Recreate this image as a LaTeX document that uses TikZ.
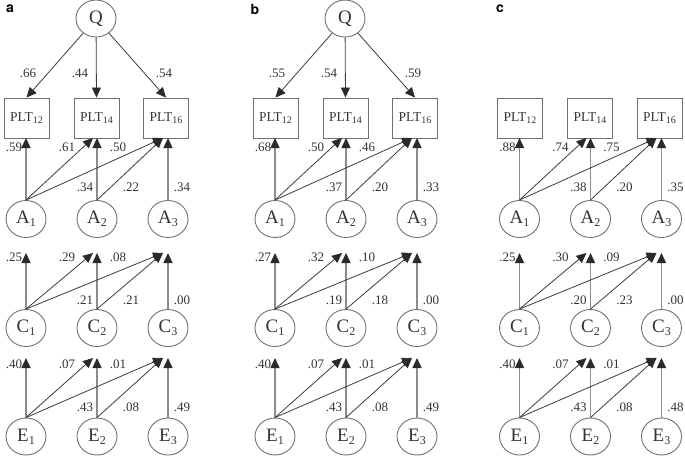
\documentclass[tikz,border=0pt]{standalone}
\usepackage{fontspec}
\setmainfont{Liberation Serif}
\newfontfamily\panelfont{TeX Gyre Heros}
\usetikzlibrary{shapes.geometric,arrows.meta}
\definecolor{txt}{HTML}{333333}
\definecolor{shapecol}{HTML}{707070}
\definecolor{vline}{HTML}{8C8C8C}
\definecolor{dline}{HTML}{3C3C3C}
\definecolor{headcol}{HTML}{2A2A2A}
\newcommand\sbP[1]{\raisebox{-2.5pt}{\fontsize{10}{10}\selectfont #1}}
\newcommand\sbL[1]{\raisebox{-3pt}{\fontsize{12}{12}\selectfont #1}}
\tikzset{
 lat/.style={ellipse, draw=shapecol, line width=0.9pt, minimum width=40pt, minimum height=37pt, inner sep=0pt, text=txt, font=\fontsize{19}{20}\selectfont},
 obs/.style={rectangle, draw=shapecol, line width=0.9pt, minimum width=45pt, minimum height=40pt, inner sep=0pt, text=txt, font=\fontsize{13.5}{14}\selectfont},
 vpath/.style={draw=vline, line width=1.4pt, -{Triangle[length=10pt,width=9pt,color=headcol]}},
 dpath/.style={draw=dline, line width=0.8pt, -{Triangle[length=10pt,width=9pt,color=headcol]}},
 lbl/.style={text=txt, font=\fontsize{13}{14}\selectfont, inner sep=0pt},
 plbl/.style={font=\panelfont\bfseries\fontsize{14}{14}\selectfont, inner sep=0pt},
}
% panel body: #1 = name prefix
\newcommand\panelbody[1]{%
 \node[obs] (#1P12) at (26.5,118) {PLT\sbP{12}};
 \node[obs] (#1P14) at (96.5,118) {PLT\sbP{14}};
 \node[obs] (#1P16) at (166,118) {PLT\sbP{16}};
 \coordinate (#1pv1) at (26,138);
 \coordinate (#1pv2) at (97,138);
 \coordinate (#1pv3) at (168,138);
 \coordinate (#1pd2) at (93,138);
 \coordinate (#1pd3) at (163,138);
 \node[lat] (#1A1) at (26,219) {A\sbL{1}};
 \node[lat] (#1A2) at (97,219) {A\sbL{2}};
 \node[lat] (#1A3) at (168,219) {A\sbL{3}};
 \coordinate (#1cv1) at (26,253);
 \coordinate (#1cv2) at (97,253);
 \coordinate (#1cv3) at (168,253);
 \coordinate (#1cd2) at (93,253);
 \coordinate (#1cd3) at (163,253);
 \node[lat] (#1C1) at (26,328) {C\sbL{1}};
 \node[lat] (#1C2) at (97,328) {C\sbL{2}};
 \node[lat] (#1C3) at (168,328) {C\sbL{3}};
 \coordinate (#1ev1) at (26,358);
 \coordinate (#1ev2) at (97,358);
 \coordinate (#1ev3) at (168,358);
 \coordinate (#1ed2) at (93,358);
 \coordinate (#1ed3) at (163,358);
 \node[lat] (#1E1) at (26,436.5) {E\sbL{1}};
 \node[lat] (#1E2) at (97,436.5) {E\sbL{2}};
 \node[lat] (#1E3) at (168,436.5) {E\sbL{3}};
 % A row
 \draw[vpath] (#1A1.north) -- (#1pv1);
 \draw[vpath] (#1A2.north) -- (#1pv2);
 \draw[vpath] (#1A3.north) -- (#1pv3);
 \draw[dpath] (#1A1.north) -- (#1pd2);
 \draw[dpath] (#1A1.north) -- (#1pd3);
 \draw[dpath] (#1A2.north) -- (#1pd3);
 % C row
 \draw[vpath] (#1C1.north) -- (#1cv1);
 \draw[vpath] (#1C2.north) -- (#1cv2);
 \draw[vpath] (#1C3.north) -- (#1cv3);
 \draw[dpath] (#1C1.north) -- (#1cd2);
 \draw[dpath] (#1C1.north) -- (#1cd3);
 \draw[dpath] (#1C2.north) -- (#1cd3);
 % E row
 \draw[vpath] (#1E1.north) -- (#1ev1);
 \draw[vpath] (#1E2.north) -- (#1ev2);
 \draw[vpath] (#1E3.north) -- (#1ev3);
 \draw[dpath] (#1E1.north) -- (#1ed2);
 \draw[dpath] (#1E1.north) -- (#1ed3);
 \draw[dpath] (#1E2.north) -- (#1ed3);
}
% Q part: #1 prefix, #2-#4 labels
\newcommand\qpart[4]{%
 \node[lat] (#1Q) at (96,18.5) {Q};
 \draw[dpath] (#1Q) -- (#1P12.north);
 \draw[dpath] (#1Q) -- (#1P14.north);
 \draw[dpath] (#1Q) -- (#1P16.north);
 \node[lbl] at (28,73) {#2};
 \node[lbl] at (80,73) {#3};
 \node[lbl] at (164,73) {#4};
}
% row labels: #1 top y, #2 bottom y, #3-#8 labels
\newcommand\rowlbl[8]{%
 \node[lbl] at (14,#1) {#3};
 \node[lbl] at (67,#1) {#4};
 \node[lbl] at (118,#1) {#5};
 \node[lbl] at (85,#2) {#6};
 \node[lbl] at (131,#2) {#7};
 \node[lbl] at (182,#2) {#8};
}
\begin{document}
\begin{tikzpicture}[x=1pt,y=-1pt]
\useasboundingbox (0,0) rectangle (685,456);
% panel a
\node[plbl] (la) at (10,9) {a};
\begin{scope}
 \panelbody{a}
 \qpart{a}{.66}{.44}{.54}
 \rowlbl{147}{187}{.59}{.61}{.50}{.34}{.22}{.34}
 \rowlbl{257}{300}{.25}{.29}{.08}{.21}{.21}{.00}
 \rowlbl{364}{407}{.40}{.07}{.01}{.43}{.08}{.49}
\end{scope}
% panel b
\node[plbl] (lb) at (255,9) {b};
\begin{scope}[xshift=249pt]
 \panelbody{b}
 \qpart{b}{.55}{.54}{.59}
 \rowlbl{147}{187}{.68}{.50}{.46}{.37}{.20}{.33}
 \rowlbl{257}{300}{.27}{.32}{.10}{.19}{.18}{.00}
 \rowlbl{364}{407}{.40}{.07}{.01}{.43}{.08}{.49}
\end{scope}
% panel c
\node[plbl] (lc) at (500,9) {c};
\begin{scope}[xshift=493.5pt]
 \panelbody{c}
 \rowlbl{147}{187}{.88}{.74}{.75}{.38}{.20}{.35}
 \rowlbl{257}{300}{.25}{.30}{.09}{.20}{.23}{.00}
 \rowlbl{364}{407}{.40}{.07}{.01}{.43}{.08}{.48}
\end{scope}
\end{tikzpicture}
\end{document}
